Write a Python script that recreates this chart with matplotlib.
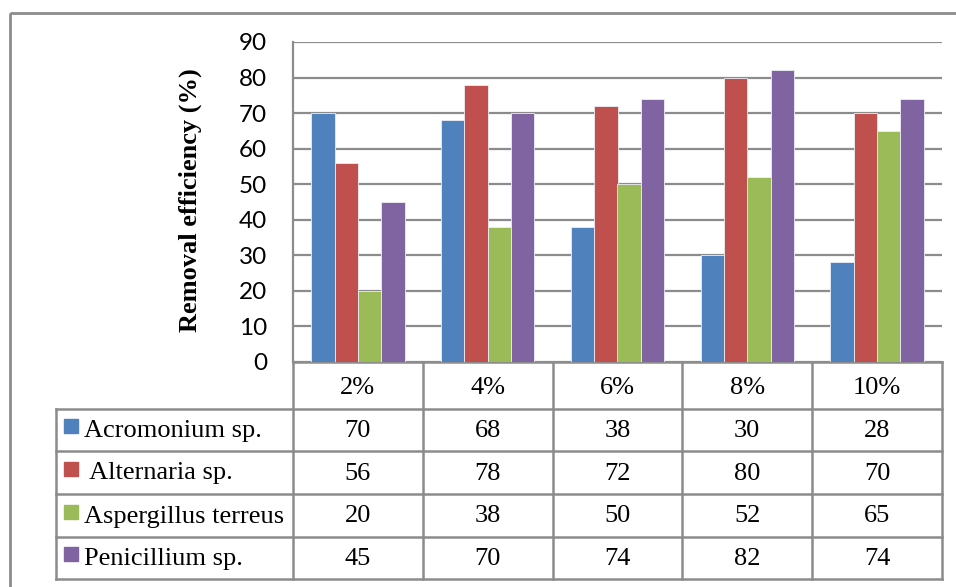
import numpy as np
import matplotlib.pyplot as plt
from matplotlib.patches import Rectangle

# data
categories = ["2%", "4%", "6%", "8%", "10%"]
series_names = ["Acromonium sp.", " Alternaria sp.", "Aspergillus terreus", "Penicillium sp."]
acromonium = [70, 68, 38, 30, 28]
alternaria = [56, 78, 72, 80, 70]
aspergillus = [20, 38, 50, 52, 65]
penicillium = [45, 70, 74, 82, 74]
series_values = [acromonium, alternaria, aspergillus, penicillium]
colors = ["#4F81BD", "#C0504D", "#9BBB59", "#8064A2"]
y_ticks = list(range(0, 100, 10))

W, H = 956, 587
GRID = "#8C8C8C"
fig = plt.figure(figsize=(W / 100, H / 100), dpi=100)

# overlay in pixel coords for frame + data table
ov = fig.add_axes([0, 0, 1, 1])
ov.set_xlim(0, W)
ov.set_ylim(H, 0)
ov.axis("off")

# plot area (pixels)
px_l, px_r, px_t, px_b = 293, 942, 42, 362
ax = fig.add_axes([px_l / W, 1 - px_b / H, (px_r - px_l) / W, (px_b - px_t) / H])

n_cat = len(categories)
x = np.arange(n_cat)
bw = 0.18
for i, (vals, col) in enumerate(zip(series_values, colors)):
    ax.bar(x + (i - 1.5) * bw, vals, width=bw, color=col,
           edgecolor="#EDEDF5", linewidth=0.6, zorder=3)

ax.set_xlim(-0.5, n_cat - 0.5)
ax.set_ylim(0, 90)
ax.set_yticks(y_ticks)
ax.set_yticklabels([str(t) for t in y_ticks], fontfamily="Lato", fontsize=17.5)
ax.tick_params(axis="y", length=0, pad=18.5)
ax.set_xticks([])
ax.grid(axis="y", color=GRID, linewidth=1.6, zorder=0)
for s in ("top", "right", "bottom"):
    ax.spines[s].set_visible(False)
ax.spines["left"].set_color(GRID)
ax.spines["left"].set_linewidth(1.6)
ax.set_facecolor("none")

fig.text(190 / W, 1 - 200 / H, "Removal efficiency (%)", rotation=90,
         ha="center", va="center", fontfamily="Liberation Serif",
         fontweight="bold", fontsize=19)

# outer frame (cut off at right/bottom like the source)
ov.add_patch(Rectangle((10, 13), W + 20, H + 20, fill=False,
                       edgecolor=GRID, linewidth=2))

# data table
col_edges = [px_l + (px_r - px_l) * k / n_cat for k in range(n_cat + 1)]
row_edges = [362, 409, 451, 494, 537, 579]
tbl_left = 56
lw = 1.8
for k, xe in enumerate(col_edges):
    ov.plot([xe, xe], [row_edges[0], row_edges[-1]], color=GRID, lw=lw)
ov.plot([tbl_left, tbl_left], [row_edges[1], row_edges[-1]], color=GRID, lw=lw)
ov.plot([px_l, px_r], [row_edges[0], row_edges[0]], color=GRID, lw=lw)
for ye in row_edges[1:]:
    ov.plot([tbl_left, px_r], [ye, ye], color=GRID, lw=lw)

cx = [(col_edges[k] + col_edges[k + 1]) / 2 for k in range(n_cat)]
for k, c in enumerate(categories):
    ov.text(cx[k], (row_edges[0] + row_edges[1]) / 2 + 2, c, ha="center",
            va="center", fontfamily="Liberation Serif", fontsize=19)

for r, (name, vals, col) in enumerate(zip(series_names, series_values, colors)):
    yc = (row_edges[r + 1] + row_edges[r + 2]) / 2
    ov.add_patch(Rectangle((64, yc - 11), 14, 14, color=col))
    ov.text(84, yc + 1, name, ha="left", va="center",
            fontfamily="Liberation Serif", fontsize=19)
    for k, v in enumerate(vals):
        ov.text(cx[k], yc + 1, str(v), ha="center", va="center",
                fontfamily="Liberation Serif", fontsize=19)

fig.savefig("out.png", dpi=100)
